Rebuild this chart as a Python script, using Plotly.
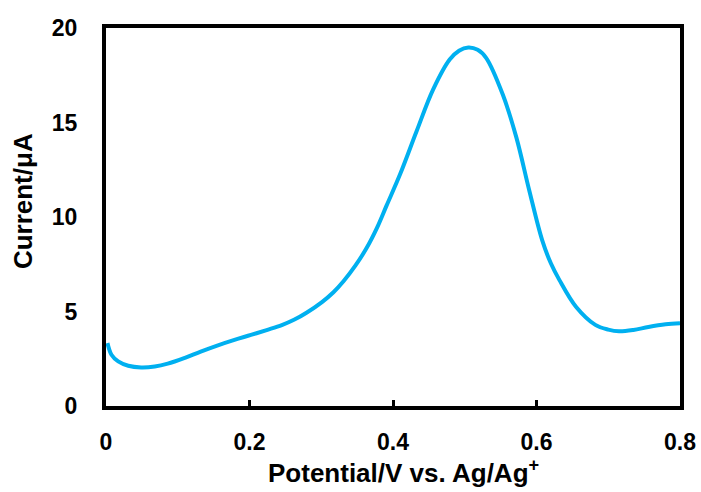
import plotly.graph_objects as go

potential = [0.002, 0.0076, 0.017, 0.031, 0.049, 0.068, 0.086, 0.110, 0.132, 0.155, 0.179,
             0.202, 0.225, 0.245, 0.262, 0.280, 0.301, 0.317, 0.331, 0.348, 0.364, 0.378,
             0.391, 0.410, 0.433, 0.456, 0.479, 0.492, 0.505, 0.518, 0.530, 0.553, 0.572,
             0.590, 0.608, 0.620, 0.632, 0.655, 0.682, 0.700, 0.715, 0.735, 0.756, 0.780, 0.800]
current = [3.33, 2.71, 2.36, 2.13, 2.04, 2.09, 2.24, 2.55, 2.88, 3.20, 3.50,
           3.76, 4.03, 4.28, 4.56, 4.95, 5.50, 6.02, 6.60, 7.45, 8.41, 9.45,
           10.60, 12.27, 14.55, 16.75, 18.33, 18.80, 18.97, 18.85, 18.41, 16.48, 14.20,
           11.39, 8.76, 7.55, 6.66, 5.25, 4.29, 4.04, 3.95, 4.02, 4.18, 4.32, 4.38]

x_ticks = [0, 0.2, 0.4, 0.6, 0.8]
x_tick_text = ["0", "0.2", "0.4", "0.6", "0.8"]
y_ticks = [0, 5, 10, 15, 20]
x_title = "Potential/V vs. Ag/Ag<sup>+</sup>"
y_title = "Current/μA"

fig = go.Figure()
fig.add_trace(go.Scatter(x=potential, y=current, mode="lines",
                         line=dict(color="#00B0F0", width=4, shape="spline", smoothing=1.0),
                         showlegend=False, hoverinfo="skip", cliponaxis=True))

fam = "Liberation Sans, Arial, sans-serif"
fig.update_layout(
    width=701, height=492,
    margin=dict(l=106, r=21, t=28, b=86, autoexpand=False),
    paper_bgcolor="white", plot_bgcolor="white",
    font=dict(family=fam, size=22, color="black"),
)
fig.update_xaxes(range=[0, 0.8], tickvals=x_ticks, ticktext=x_tick_text,
                 showline=True, linecolor="black", linewidth=4, mirror=True,
                 ticks="inside", ticklen=6, tickwidth=3, tickcolor="black",
                 showgrid=False, zeroline=False, automargin=False,
                 tickfont=dict(family=fam, size=23, color="black", weight="bold"),
                 ticklabelstandoff=12)
fig.update_yaxes(range=[0, 20], tickvals=y_ticks,
                 showline=True, linecolor="black", linewidth=4, mirror=True,
                 ticks="", showgrid=False, zeroline=False, automargin=False,
                 tickfont=dict(family=fam, size=23, color="black", weight="bold"),
                 ticklabelstandoff=20)

title_font = dict(family=fam, size=26, color="black", weight="bold")
fig.add_annotation(text=x_title, xref="paper", yref="paper", x=0.518, y=0,
                   xanchor="center", yanchor="middle", yshift=-65,
                   showarrow=False, font=title_font)
fig.add_annotation(text=y_title, xref="paper", yref="paper", x=0, y=0.542,
                   xanchor="center", yanchor="middle", xshift=-83, textangle=-90,
                   showarrow=False, font=title_font)

fig.write_html("out.html", config={"displayModeBar": False},
               post_script="document.body.style.margin='0';")
